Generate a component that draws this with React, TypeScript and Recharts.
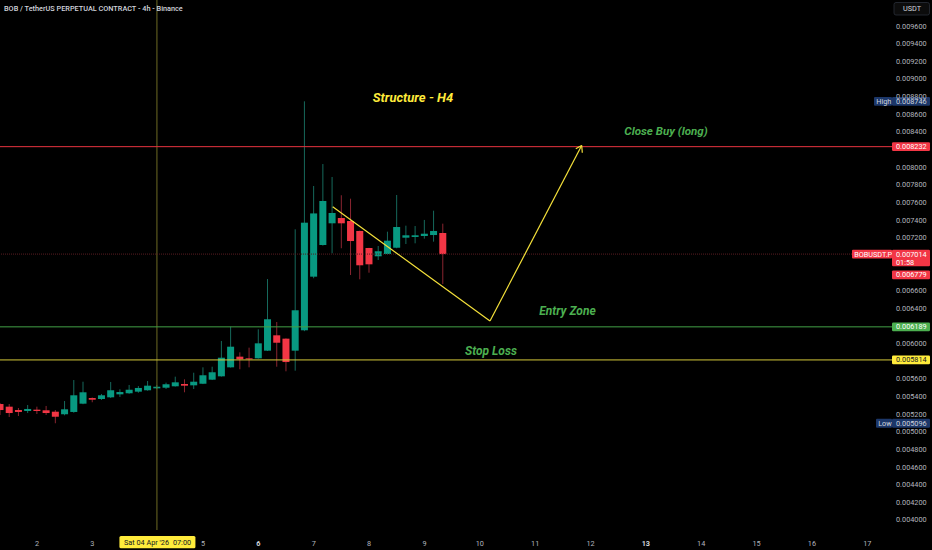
import React from 'react';
import { ComposedChart, Bar, XAxis, YAxis, ReferenceLine, ReferenceDot } from 'recharts';

// candle open times, hours since Thu 02 Apr 00:00 (4h candles)
const hours = [-16, -12, -8, -4, 0, 4, 8, 12, 16, 20, 24, 28, 32, 36, 40, 44, 48, 52, 56, 60, 64, 68, 72, 76, 80, 84, 88, 92, 96, 100, 104, 108, 112, 116, 120, 124, 128, 132, 136, 140, 144, 148, 152, 156, 160, 164, 168, 172, 176];
const openP = [0.005314, 0.005284, 0.005246, 0.005235, 0.00525, 0.005243, 0.005227, 0.005198, 0.005224, 0.005318, 0.005382, 0.005371, 0.00539, 0.005424, 0.005436, 0.005454, 0.00547, 0.005492, 0.005499, 0.005515, 0.005541, 0.005526, 0.005544, 0.00559, 0.005628, 0.00573, 0.005851, 0.005832, 0.005832, 0.005919, 0.006093, 0.006055, 0.005919, 0.00615, 0.006758, 0.007117, 0.007363, 0.007423, 0.007389, 0.007276, 0.007083, 0.006989, 0.007015, 0.007086, 0.0072, 0.007208, 0.007219, 0.00723, 0.007253];
const highP = [0.005326, 0.005314, 0.005269, 0.005303, 0.005284, 0.005292, 0.005246, 0.005348, 0.005586, 0.005567, 0.005388, 0.005428, 0.005564, 0.005481, 0.00553, 0.005518, 0.005575, 0.00553, 0.005556, 0.005624, 0.005594, 0.005669, 0.00573, 0.005737, 0.006029, 0.006191, 0.0059, 0.005953, 0.006161, 0.006731, 0.006244, 0.006058, 0.007295, 0.008746, 0.007786, 0.008035, 0.007888, 0.007681, 0.007642, 0.00728, 0.007085, 0.007106, 0.007268, 0.007684, 0.007336, 0.007332, 0.007401, 0.007506, 0.007359];
const lowP = [0.00519, 0.005167, 0.005178, 0.005212, 0.005201, 0.00519, 0.005096, 0.005186, 0.005215, 0.005312, 0.005334, 0.00536, 0.005382, 0.005394, 0.00543, 0.005442, 0.005465, 0.005481, 0.005484, 0.005512, 0.005447, 0.005484, 0.00554, 0.005586, 0.005625, 0.005727, 0.005708, 0.00573, 0.005829, 0.005915, 0.005737, 0.005685, 0.005692, 0.00614, 0.00674, 0.00711, 0.007023, 0.00708, 0.006777, 0.006728, 0.006803, 0.006947, 0.00701, 0.00708, 0.007128, 0.007136, 0.007189, 0.007155, 0.006675];
const closeP = [0.005246, 0.005212, 0.005224, 0.005258, 0.005235, 0.005212, 0.00517, 0.005254, 0.005413, 0.005447, 0.005363, 0.005413, 0.00547, 0.00545, 0.005476, 0.005496, 0.005522, 0.00551, 0.005538, 0.00556, 0.005522, 0.005567, 0.00564, 0.005674, 0.005839, 0.005964, 0.005821, 0.005824, 0.006002, 0.006275, 0.006009, 0.00579, 0.006377, 0.00737, 0.007475, 0.007616, 0.00748, 0.007363, 0.007162, 0.006887, 0.006898, 0.007046, 0.007166, 0.007321, 0.007227, 0.007227, 0.007245, 0.007276, 0.007014];

const dayTicks = [0, 24, 72, 96, 120, 144, 168, 192, 216, 240, 264, 288, 312, 336, 360];
const dayLabels = ['2', '3', '5', '6', '7', '8', '9', '10', '11', '12', '13', '14', '15', '16', '17'];
const boldDays = ['6', '13'];

// price scale labels (those hidden behind the price boxes are left out, as in the reference)
const priceTicks = [0.004, 0.0042, 0.0044, 0.0046, 0.0048, 0.005, 0.0052, 0.0054, 0.0056, 0.006, 0.0064, 0.0066, 0.0072, 0.0074, 0.0076, 0.0078, 0.008, 0.0084, 0.0086, 0.0088, 0.009, 0.0092, 0.0094, 0.0096];

const closeBuyLevel = 0.008232;
const entryLevel = 0.006189;
const stopLevel = 0.005814;
const lastPrice = 0.007014;
const lastPriceTimer = '01:58';
const secondPrice = 0.006779;
const highPrice = 0.008746;
const lowPrice = 0.005096;
const crosshairHour = 52;

// drawing: path (hours, price)
const pathX = [128.21, 196.42, 236.18];
const pathY = [0.007551, 0.006255, 0.008245];
const arrowArmX = [233.62, 236.45];
const arrowArmY = [0.008208, 0.008163];

const noteTexts = ['Structure - H4', 'Close Buy (long)', 'Entry Zone', 'Stop Loss'];
const noteX = [163.03, 272.74, 230.02, 196.85];
const noteY = [0.008795, 0.008409, 0.006374, 0.005915];

const X_DOMAIN = [-16.043, 370.73];
const Y_DOMAIN = [0.0038857, 0.0098948];

const FONT = "Roboto, 'Noto Sans', 'DejaVu Sans', sans-serif";
const UP = '#089981';
const DOWN = '#f23645';

const candles = hours.map((t, i) => ({ t, open: openP[i], high: highP[i], low: lowP[i], close: closeP[i] }));

const Candle = (props: any) => {
  const { x, y, width, height, payload } = props;
  if (!payload) return null;
  const { open, close, high, low } = payload;
  const up = close >= open;
  const ratio = high - low > 0 ? height / (high - low) : 0;
  const yOf = (v: number) => y + (high - v) * ratio;
  const top = yOf(Math.max(open, close));
  const bot = yOf(Math.min(open, close));
  const cx = x + width / 2;
  return (
    <g>
      <line x1={cx} x2={cx} y1={y} y2={y + height} stroke={up ? '#16695c' : '#8a2530'} strokeWidth={1} />
      <rect x={x} y={top} width={width} height={Math.max(1, bot - top)} fill={up ? UP : DOWN} />
    </g>
  );
};

const YTick = (props: any) => {
  const { x, y, payload } = props;
  return (
    <text x={x} y={y} dy="0.35em" fontSize={7.3} fill="#b2b5be" fontFamily={FONT} textAnchor="start">
      {Number(payload.value).toFixed(6)}
    </text>
  );
};

const XTick = (props: any) => {
  const { x, y, payload } = props;
  const idx = dayTicks.indexOf(payload.value);
  const label = idx >= 0 ? dayLabels[idx] : '';
  const bold = boldDays.includes(label);
  return (
    <text x={x} y={y + 15.6} fontSize={7.3} fill={bold ? '#d1d4dc' : '#b2b5be'} fontWeight={bold ? 700 : 400} fontFamily={FONT} textAnchor="middle">
      {label}
    </text>
  );
};

const priceBox = (value: string, fill: string, color: string, tag?: string, tagFill?: string, tagX?: number, sub?: string) => (props: any) => {
  const vb = props.viewBox || {};
  const y = vb.y;
  const right = vb.x + vb.width;
  const bx = right;
  const h = sub ? 16.6 : 8.8;
  return (
    <g>
      {tag ? (
        <g>
          <rect x={tagX} y={y - 4.4} width={bx - (tagX as number)} height={8.8} fill={tagFill} rx={1} />
          <text x={(tagX as number) + 2.2} y={y} dy="0.35em" fontSize={7.3} fill={color} fontFamily={FONT}>{tag}</text>
        </g>
      ) : null}
      <rect x={bx} y={y - 4.4} width={38} height={h} fill={fill} rx={1.2} />
      <text x={bx + 4} y={y} dy="0.35em" fontSize={7.3} fill={color} fontFamily={FONT}>{value}</text>
      {sub ? <text x={bx + 4} y={y + 7.9} dy="0.35em" fontSize={7.3} fill={color} fontFamily={FONT}>{sub}</text> : null}
    </g>
  );
};

const crosshairLabel = (props: any) => {
  const vb = props.viewBox || {};
  const x = vb.x;
  const bottom = vb.y + vb.height;
  return (
    <g>
      <rect x={x - 37.5} y={bottom + 6} width={76} height={12.2} fill="#ffeb3b" rx={1.5} />
      <text x={x - 33} y={bottom + 12.1} dy="0.35em" fontSize={7.3} fill="#131722" fontFamily={FONT}>Sat 04 Apr '26</text>
      <text x={x + 16} y={bottom + 12.1} dy="0.35em" fontSize={7.3} fill="#131722" fontFamily={FONT}>07:00</text>
    </g>
  );
};

const noteColors = ['#ffeb3b', '#4caf50', '#4caf50', '#4caf50'];
const noteSizes = [13, 11.6, 12, 12];

const noteShape = (i: number) => (p: any) => (
  <text x={p.cx} y={p.cy} dy="0.35em" textAnchor="middle" fontSize={noteSizes[i]} fontWeight={700} fontStyle="italic" fill={noteColors[i]} fontFamily={FONT}>
    {noteTexts[i]}
  </text>
);

export default function App() {
  return (
    <div style={{ position: 'absolute', left: 0, top: 0, width: 932, height: 550, background: '#000', overflow: 'hidden' }}>
      <ComposedChart width={932} height={550} data={candles} margin={{ top: 0, right: 0, bottom: 0, left: 0 }}>
        <XAxis
          dataKey="t"
          type="number"
          domain={X_DOMAIN}
          allowDataOverflow
          ticks={dayTicks}
          interval={0}
          axisLine={false}
          tickLine={false}
          tickSize={0}
          tickMargin={0}
          height={20}
          tick={<XTick />}
        />
        <YAxis
          orientation="right"
          type="number"
          domain={Y_DOMAIN}
          allowDataOverflow
          ticks={priceTicks}
          interval={0}
          axisLine={false}
          tickLine={false}
          tickSize={0}
          tickMargin={4}
          width={40}
          tick={<YTick />}
        />
        <ReferenceLine x={crosshairHour} stroke="#6e6b24" strokeWidth={1} label={crosshairLabel} />
        <ReferenceLine y={lastPrice} stroke="#5a1c22" strokeWidth={1} strokeDasharray="1 1" />
        <Bar dataKey={(d: any) => [d.low, d.high]} barSize={7} shape={Candle} isAnimationActive={false} />
        <ReferenceLine y={closeBuyLevel} stroke="#e8333f" strokeWidth={1} label={priceBox('0.008232', '#f23645', '#ffffff')} />
        <ReferenceLine y={entryLevel} stroke="#43a047" strokeWidth={1} label={priceBox('0.006189', '#4caf50', '#ffffff')} />
        <ReferenceLine y={stopLevel} stroke="#d4c83a" strokeWidth={1} label={priceBox('0.005814', '#ffeb3b', '#131722')} />
        <ReferenceLine y={highPrice} stroke="none" label={priceBox('0.008746', '#1c3769', '#d1d4dc', 'High', '#1c3769', 874)} />
        <ReferenceLine y={lowPrice} stroke="none" label={priceBox('0.005096', '#1c3769', '#d1d4dc', 'Low', '#1c3769', 876)} />
        <ReferenceLine y={secondPrice} stroke="none" label={priceBox('0.006779', '#f23645', '#ffffff')} />
        <ReferenceLine y={lastPrice} stroke="none" label={priceBox('0.007014', '#f23645', '#ffffff', 'BOBUSDT.P', '#f23645', 852, lastPriceTimer)} />
        <ReferenceLine segment={[{ x: pathX[0], y: pathY[0] }, { x: pathX[1], y: pathY[1] }]} stroke="#f5e13a" strokeWidth={1.2} ifOverflow="visible" />
        <ReferenceLine segment={[{ x: pathX[1], y: pathY[1] }, { x: pathX[2], y: pathY[2] }]} stroke="#f5e13a" strokeWidth={1.2} ifOverflow="visible" />
        <ReferenceLine segment={[{ x: arrowArmX[0], y: arrowArmY[0] }, { x: pathX[2], y: pathY[2] }]} stroke="#f5e13a" strokeWidth={1.2} ifOverflow="visible" />
        <ReferenceLine segment={[{ x: arrowArmX[1], y: arrowArmY[1] }, { x: pathX[2], y: pathY[2] }]} stroke="#f5e13a" strokeWidth={1.2} ifOverflow="visible" />
        {noteTexts.map((t, i) => (
          <ReferenceDot key={t} x={noteX[i]} y={noteY[i]} r={1} ifOverflow="visible" shape={noteShape(i)} />
        ))}
      </ComposedChart>
      <svg width={932} height={20} style={{ position: 'absolute', left: 0, top: 0 }}>
        <text x={4} y={8} dy="0.35em" fontSize={7.3} fontWeight={500} fill="#d1d4dc" fontFamily={FONT}>
          BOB / TetherUS PERPETUAL CONTRACT - 4h - Binance
        </text>
        <rect x={894} y={2.5} width={35.5} height={12.5} rx={2} fill="#0c0c0c" stroke="#2a2e39" strokeWidth={0.8} />
        <text x={912} y={8.8} dy="0.35em" textAnchor="middle" fontSize={7.3} fill="#d1d4dc" fontFamily={FONT}>USDT</text>
      </svg>
    </div>
  );
}
